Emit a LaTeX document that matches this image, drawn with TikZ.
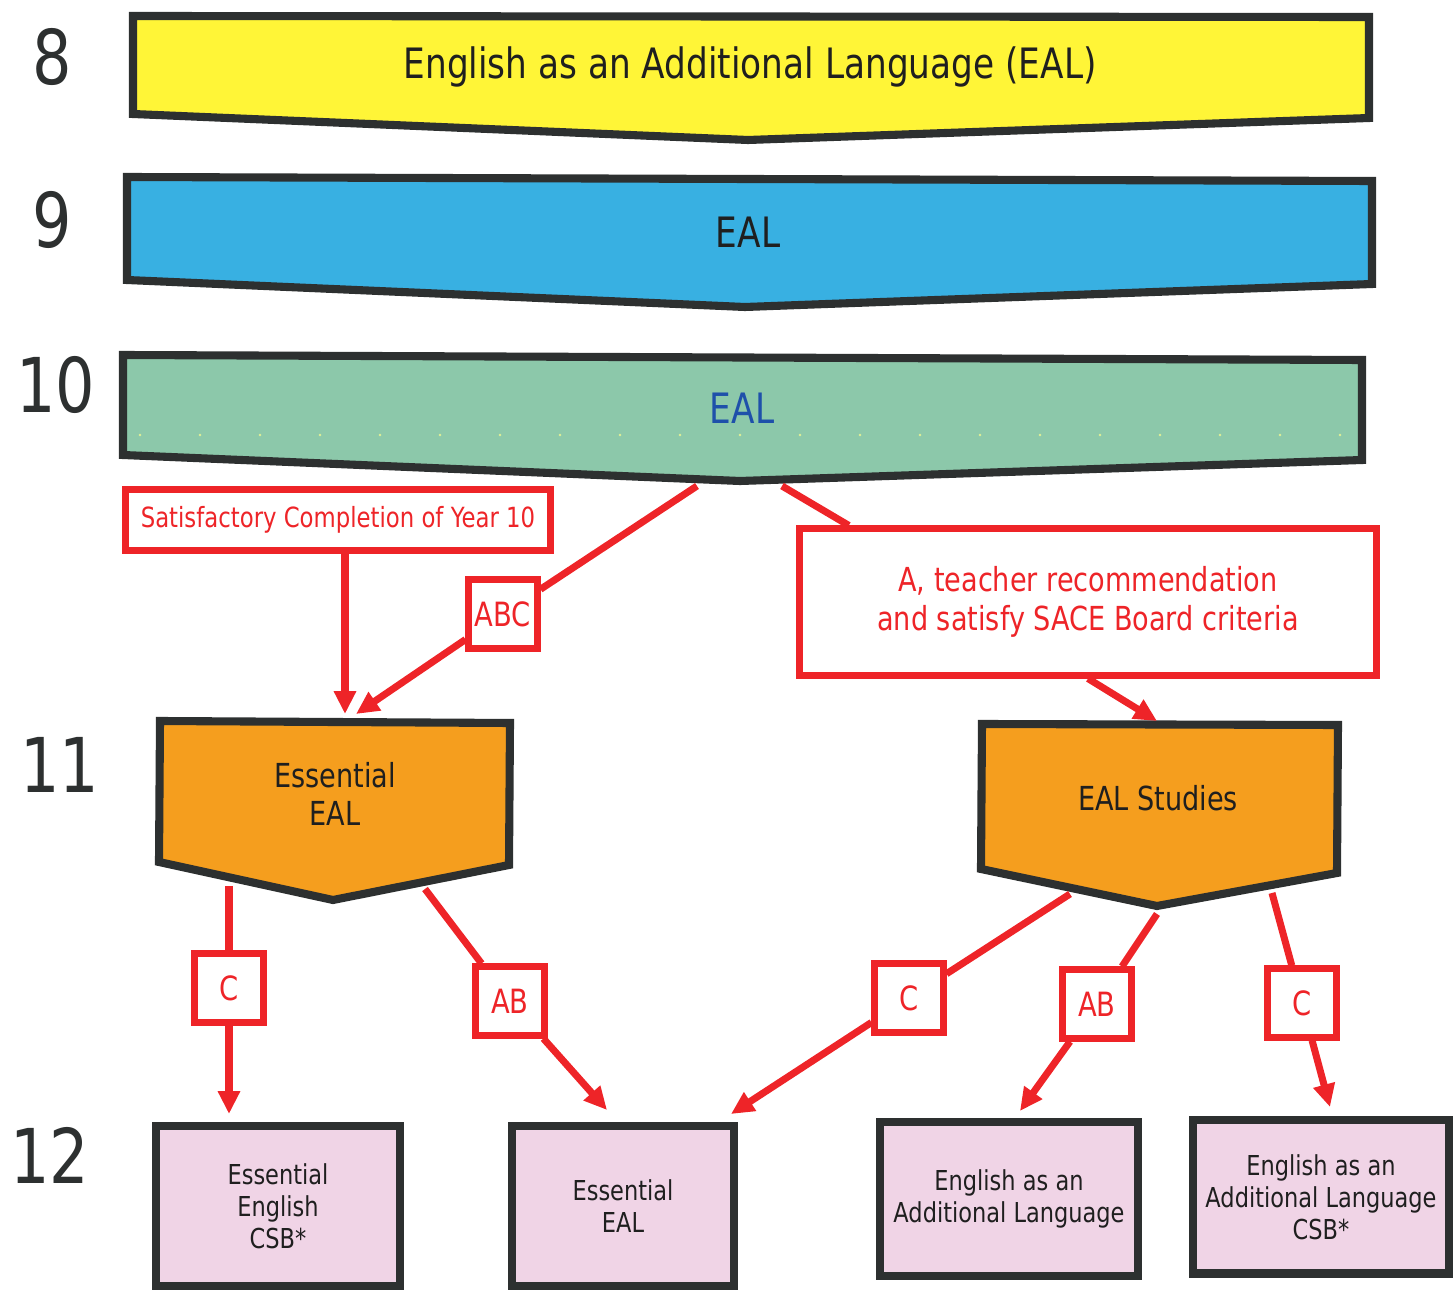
\documentclass[tikz,border=0pt]{standalone}
\usepackage{fontspec}
\setmainfont{DejaVu Sans}[FakeStretch=0.82]
\usetikzlibrary{arrows.meta,calc}

\definecolor{edgegrey}{RGB}{45,48,48}
\definecolor{bandyellow}{RGB}{255,245,55}
\definecolor{bandblue}{RGB}{56,176,226}
\definecolor{bandgreen}{RGB}{140,200,170}
\definecolor{easblue}{RGB}{30,80,170}
\definecolor{dotyellow}{RGB}{225,240,150}
\definecolor{courseorange}{RGB}{245,158,30}
\definecolor{coursepink}{RGB}{240,212,230}
\definecolor{redline}{RGB}{238,36,40}

\begin{document}
\begin{tikzpicture}[x=0.01cm,y=-0.01cm]
	\tikzstyle{band}=[draw=edgegrey,line width=2.3pt,line join=miter]
	\tikzstyle{bandtext}=[text=black!88,font=\fontsize{11.9}{14}\selectfont]
	\tikzstyle{level}=[text=edgegrey,font=\fontsize{21.5}{25}\selectfont]
	\tikzstyle{cond}=[draw=redline,line width=2pt,fill=white,text=redline,align=center]
	\tikzstyle{grade}=[cond,minimum width=0.68cm,minimum height=0.68cm,inner sep=0pt,font=\fontsize{9.5}{11}\selectfont]
	\tikzstyle{course}=[draw=edgegrey,line width=2.3pt,fill=coursepink,align=center,text=black!88,font=\fontsize{7.8}{9.1}\selectfont]
	\tikzstyle{link}=[draw=redline,line width=2pt]
	\tikzstyle{arrow}=[link,-{Triangle[length=6.5pt,width=6pt]}]
	\useasboundingbox (0,0) rectangle (1453,1291);

	% year levels
	\node [level] (l8) at (52,57) {8};
	\node [level] (l9) at (52,220) {9};
	\node [level] (l10) at (56,385) {10};
	\node [level] (l11) at (60,765) {11};
	\node [level] (l12) at (50,1155) {12};

	% years 8 to 10
	\draw [band,fill=bandyellow] (133,16) -- (1369,17) -- (1369,118) -- (748,140) -- (133,114) -- cycle;
	\node [bandtext] (y8) at (750,67) {English as an Additional Language (EAL)};
	\draw [band,fill=bandblue] (127,177) -- (1372,181) -- (1372,284) -- (745,307) -- (127,280) -- cycle;
	\node [bandtext] (y9) at (748,232) {EAL};
	\draw [band,fill=bandgreen] (123,355) -- (1362,360) -- (1362,460) -- (740,481) -- (123,455) -- cycle;
	\foreach \x in {140,200,...,1340}
		\fill [dotyellow] (\x,435) circle (1.3);
	\node [bandtext,text=easblue] (y10) at (742,408) {EAL};

	% year 11
	\draw [band,fill=courseorange] (160,721) -- (510,723) -- (509,865) -- (333,900) -- (159,862) -- cycle;
	\node [bandtext,align=center,font=\fontsize{9.4}{10.8}\selectfont] (ess) at (335,794) {Essential\\EAL};
	\draw [band,fill=courseorange] (982,724) -- (1338,725) -- (1337,873) -- (1157,906) -- (981,869) -- cycle;
	\node [bandtext,font=\fontsize{9.4}{11}\selectfont] (stud) at (1158,798) {EAL Studies};

	% year 12
	\node [course,minimum width=2.44cm,minimum height=1.6cm] (p1) at (278,1206) {Essential\\English\\CSB*};
	\node [course,minimum width=2.22cm,minimum height=1.6cm] (p2) at (623,1206) {Essential\\EAL};
	\node [course,minimum width=2.58cm,minimum height=1.54cm] (p3) at (1009,1199) {English as an\\Additional Language};
	\node [course,minimum width=2.55cm,minimum height=1.53cm] (p4) at (1321,1197) {English as an\\Additional Language\\CSB*};

	% conditions
	\node [cond,minimum width=4.25cm,minimum height=0.61cm,font=\fontsize{7.9}{9}\selectfont] (sat) at (338,520) {Satisfactory Completion of Year 10};
	\node [grade] (abc) at (503,614) {ABC};
	\node [cond,minimum width=5.76cm,minimum height=1.46cm,font=\fontsize{9.4}{11.1}\selectfont] (crit) at (1088,602) {A, teacher recommendation\\and satisfy SACE Board criteria};
	\node [grade] (c1) at (229,988) {C};
	\node [grade] (ab1) at (510,1001) {AB};
	\node [grade] (c2) at (909,998) {C};
	\node [grade] (ab2) at (1097,1004) {AB};
	\node [grade] (c3) at (1302,1003) {C};

	% connector ends
	\coordinate (g10a) at (697,486);
	\coordinate (g10b) at (782,486);
	\coordinate (essin1) at (345,714);
	\coordinate (essin2) at (356,714);
	\coordinate (studin) at (1157,721);
	\coordinate (essout1) at (229,886);
	\coordinate (essout2) at (425,889);
	\coordinate (studout1) at (1070,894);
	\coordinate (studout2) at (1157,914);
	\coordinate (studout3) at (1272,893);
	\coordinate (p1in) at (229,1114);
	\coordinate (p2in1) at (607,1110);
	\coordinate (p2in2) at (731,1114);
	\coordinate (p3in) at (1020,1111);
	\coordinate (p4in) at (1330,1107);

	% pathways
	\path [arrow] (sat.south -| essin1) -- (essin1);
	\path [link] (g10a) -- (abc);
	\path [arrow] (abc) -- (essin2);
	\path [link] (g10b) -- ($(crit.north west)!0.09!(crit.north east)$);
	\path [arrow] (crit.south) -- (studin);
	\path [link] (essout1) -- (c1);
	\path [arrow] (c1) -- (p1in);
	\path [link] (essout2) -- (ab1);
	\path [arrow] (ab1) -- (p2in1);
	\path [link] (studout1) -- (c2);
	\path [arrow] (c2) -- (p2in2);
	\path [link] (studout2) -- (ab2);
	\path [arrow] (ab2) -- (p3in);
	\path [link] (studout3) -- (c3);
	\path [arrow] (c3) -- (p4in);
\end{tikzpicture}
\end{document}
